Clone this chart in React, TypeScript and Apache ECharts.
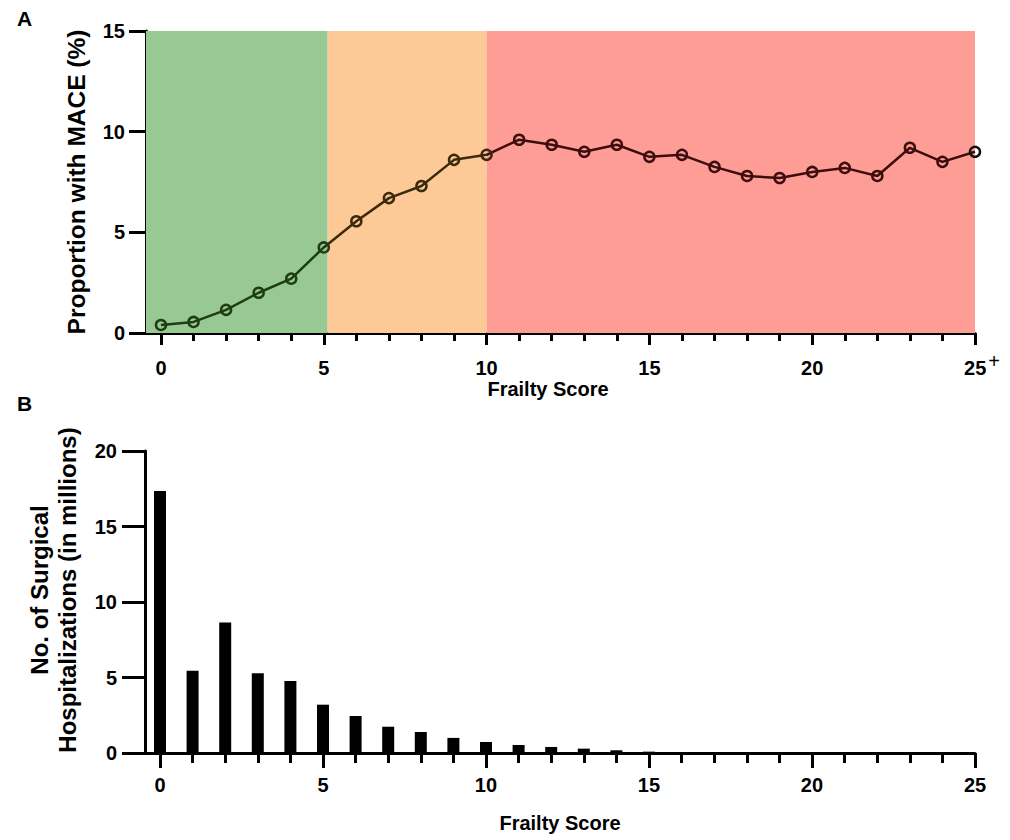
import React, { useEffect, useRef } from "react";
import * as echarts from "echarts";

const frailtyScores = [0, 1, 2, 3, 4, 5, 6, 7, 8, 9, 10, 11, 12, 13, 14, 15, 16, 17, 18, 19, 20, 21, 22, 23, 24, 25];
const maceProportion = [0.4, 0.55, 1.15, 2.0, 2.7, 4.25, 5.55, 6.7, 7.3, 8.6, 8.85, 9.6, 9.35, 9.0, 9.35, 8.75, 8.85, 8.25, 7.8, 7.7, 8.0, 8.2, 7.8, 9.2, 8.5, 9.0];
const surgicalHospMillions = [17.35, 5.45, 8.65, 5.28, 4.77, 3.2, 2.45, 1.74, 1.39, 1.0, 0.73, 0.53, 0.4, 0.29, 0.18, 0.09, 0, 0, 0, 0, 0, 0, 0, 0, 0, 0];
const majorTicks = [0, 5, 10, 15, 20, 25];
const bandEdges = [-0.46, 5.12, 10, 25];
const bandNames = ["low", "intermediate", "high"];

const FONT = "'Liberation Sans', Arial, Helvetica, sans-serif";
const X_MIN = -0.46;
const X_MAX = 25;
const bandColors = ["#98c994", "#fdc997", "#fe9d95"];
const lineColors = ["#1f3d14", "#3b2a0b", "#3d0d0d"];

function bandIndex(x: number) {
  if (x <= 5) return 0;
  if (x <= 10) return 1;
  return 2;
}

export default function App() {
  const ref = useRef<HTMLDivElement>(null);
  useEffect(() => {
    document.body.style.margin = "0";
    if (!ref.current) return;
    const chart = echarts.init(ref.current, null, { renderer: "svg" });

    const axisLineStyle = { color: "#000", width: 3 };
    const labelBase = { color: "#000", fontFamily: FONT, fontWeight: "bold" as const, fontSize: 20 };
    const titleBase = { color: "#000", fontFamily: FONT, fontWeight: "bold" as const, fontSize: 24 };

    const makeXAxes = (gridIndex: number, majorLen: number, minorLen: number, labelMargin: number, nameGap: number, namePad: number[], plus: boolean) => [
      {
        type: "value",
        gridIndex,
        position: "bottom",
        offset: 0,
        min: X_MIN,
        max: X_MAX,
        name: "Frailty Score",
        nameLocation: "middle",
        nameGap,
        nameTextStyle: { ...labelBase, padding: namePad },
        axisLine: { show: true, onZero: false, lineStyle: axisLineStyle },
        axisTick: { show: true, customValues: majorTicks, length: majorLen, lineStyle: { color: "#000", width: 3 } },
        axisLabel: {
          customValues: majorTicks,
          margin: plus ? labelMargin - 7 : labelMargin,
          ...labelBase,
          formatter: (v: number) => (plus ? (v === 25 ? "{n25|25}{sup|+}" : "{n|" + v + "}") : String(v)),
          rich: {
            n: { ...labelBase, padding: [7, 0, 7, 0] },
            n25: { ...labelBase, padding: [7, 0, 7, 14] },
            sup: { color: "#000", fontFamily: FONT, fontSize: 20, fontWeight: "normal", padding: [0, 0, 14, 2] },
          },
        },
        splitLine: { show: false },
      },
      {
        type: "value",
        gridIndex,
        position: "bottom",
        offset: 0,
        min: X_MIN,
        max: X_MAX,
        axisLine: { show: false, onZero: false },
        axisTick: { show: true, customValues: frailtyScores, length: minorLen, lineStyle: { color: "#000", width: 3 } },
        axisLabel: { show: false },
        splitLine: { show: false },
      },
    ];

    const lineData = frailtyScores.map((x, i) => [x, maceProportion[i]]);
    const markerData = frailtyScores.map((x, i) => ({
      value: [x, maceProportion[i]],
      itemStyle: { borderColor: i === frailtyScores.length - 1 ? "#111" : lineColors[bandIndex(x)] },
    }));
    const barData = frailtyScores.map((x, i) => [x, surgicalHospMillions[i]]);
    const bands = bandNames.map((n, i) => [
      { name: n, xAxis: bandEdges[i], itemStyle: { color: bandColors[i], opacity: 1 } },
      { xAxis: bandEdges[i + 1] },
    ]);

    chart.setOption({
      animation: false,
      backgroundColor: "#fff",
      textStyle: { fontFamily: FONT },
      grid: [
        { left: 146, top: 31, right: 35, height: 302, outerBoundsMode: "none" },
        { left: 145, top: 451, right: 35, height: 302, outerBoundsMode: "none" },
      ],
      xAxis: [
        ...makeXAxes(0, 12, 8, 25, 42, [0, 25, 0, 0], true),
        ...makeXAxes(1, 15, 10, 22, 60, [0, 0, 0, 0], false),
      ],
      yAxis: [
        {
          type: "value",
          gridIndex: 0,
          min: 0,
          max: 15,
          interval: 5,
          name: "Proportion with MACE (%)",
          nameLocation: "middle",
          nameGap: 57,
          nameTextStyle: { ...titleBase, fontSize: 24.5 },
          axisLine: { show: true, onZero: false, lineStyle: axisLineStyle },
          axisTick: { show: true, length: 17, lineStyle: { color: "#000", width: 3 } },
          axisLabel: { margin: 21, ...labelBase },
          splitLine: { show: false },
        },
        {
          type: "value",
          gridIndex: 1,
          min: 0,
          max: 20,
          interval: 5,
          name: "No. of Surgical\nHospitalizations (in millions)",
          nameLocation: "middle",
          nameGap: 64,
          nameTextStyle: { ...titleBase, lineHeight: 28, align: "center", padding: [0, 0, 0, 24] },
          axisLine: { show: true, onZero: false, lineStyle: axisLineStyle },
          axisTick: { show: true, length: 23, lineStyle: { color: "#000", width: 3 } },
          axisLabel: { margin: 28, ...labelBase },
          splitLine: { show: false },
        },
      ],
      visualMap: {
        show: false,
        type: "piecewise",
        seriesIndex: 0,
        dimension: 0,
        pieces: [
          { lte: 5, color: lineColors[0] },
          { gt: 5, lte: 10, color: lineColors[1] },
          { gt: 10, color: lineColors[2] },
        ],
      },
      series: [
        {
          type: "line",
          xAxisIndex: 0,
          yAxisIndex: 0,
          data: lineData,
          showSymbol: false,
          lineStyle: { width: 2.5 },
          z: 3,
        },
        {
          type: "scatter",
          xAxisIndex: 0,
          yAxisIndex: 0,
          data: markerData,
          symbol: "circle",
          symbolSize: 10,
          itemStyle: { color: "rgba(0,0,0,0)", borderWidth: 2.5, opacity: 1 },
          z: 4,
          markArea: { silent: true, z: 1, label: { show: false }, data: bands },
        },
        {
          type: "bar",
          xAxisIndex: 2,
          yAxisIndex: 1,
          data: barData,
          barWidth: 12,
          itemStyle: { color: "#000" },
        },
      ],
      graphic: [
        { type: "text", left: 17, top: 8, style: { text: "A", font: "bold 21px " + FONT, fill: "#000" } },
        { type: "text", left: 17, top: 393, style: { text: "B", font: "bold 21px " + FONT, fill: "#000" } },
      ],
    });
    return () => chart.dispose();
  }, []);
  return <div ref={ref} style={{ width: 1010, height: 840 }} />;
}
